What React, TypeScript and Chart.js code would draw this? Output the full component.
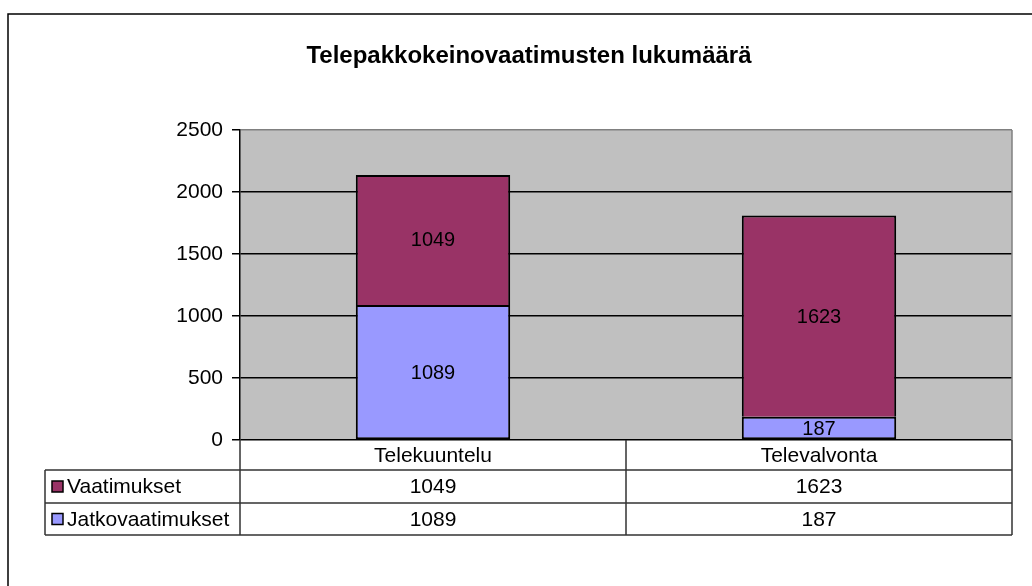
import React, { useEffect, useRef } from "react";
import { Chart, registerables } from "chart.js";

Chart.register(...registerables);

const TITLE = "Telepakkokeinovaatimusten lukumäärä";
const categories = ["Telekuuntelu", "Televalvonta"];
const seriesNames = ["Jatkovaatimukset", "Vaatimukset"];
const jatkovaatimukset = [1089, 187];
const vaatimukset = [1049, 1623];
const yTicks = [0, 500, 1000, 1500, 2000, 2500];
const colors = ["#9999FF", "#993366"];

const FONT = "'Liberation Sans', Arial, sans-serif";

export default function App() {
  const ref = useRef<HTMLCanvasElement | null>(null);

  useEffect(() => {
    document.body.style.margin = "0";
    const canvas = ref.current;
    if (!canvas) return;

    const decor = {
      id: "decor",
      beforeDraw(chart: any) {
        const { ctx, chartArea } = chart;
        ctx.save();
        ctx.fillStyle = "#ffffff";
        ctx.fillRect(0, 0, chart.width, chart.height);
        ctx.fillStyle = "#C0C0C0";
        ctx.fillRect(chartArea.left, chartArea.top, chartArea.right - chartArea.left, chartArea.bottom - chartArea.top);
        // outer frame
        ctx.strokeStyle = "#000";
        ctx.lineWidth = 1.5;
        ctx.beginPath();
        ctx.moveTo(8, chart.height);
        ctx.lineTo(8, 14);
        ctx.lineTo(chart.width, 14);
        ctx.stroke();
        // title
        ctx.fillStyle = "#000";
        ctx.font = `bold 24px ${FONT}`;
        ctx.textAlign = "center";
        ctx.textBaseline = "middle";
        ctx.fillText(TITLE, 529, 56);
        ctx.restore();
      },
      afterDraw(chart: any) {
        const { ctx, chartArea } = chart;
        const xs = chart.scales.x;
        ctx.save();
        // right plot border
        ctx.strokeStyle = "#808080";
        ctx.lineWidth = 1.5;
        ctx.beginPath();
        ctx.moveTo(chartArea.right, chartArea.top);
        ctx.lineTo(chartArea.right, chartArea.bottom);
        ctx.stroke();

        // bar value labels
        ctx.fillStyle = "#000";
        ctx.font = `20px ${FONT}`;
        ctx.textAlign = "center";
        ctx.textBaseline = "middle";
        chart.data.datasets.forEach((ds: any, di: number) => {
          const meta = chart.getDatasetMeta(di);
          meta.data.forEach((el: any, i: number) => {
            const cy = (el.y + el.base) / 2;
            ctx.fillText(String(ds.data[i]), el.x, cy + 1);
          });
        });

        // data table
        const left = chartArea.left;
        const right = chartArea.right;
        const top = chartArea.bottom;
        const rowY = [top, top + 30, top + 63, top + 95];
        const tableLeft = 45;
        const n = categories.length;
        const colW = (right - left) / n;
        const edges: number[] = [];
        for (let i = 0; i <= n; i++) edges.push(left + colW * i);

        ctx.strokeStyle = "#333";
        ctx.lineWidth = 1.5;
        ctx.beginPath();
        for (let r = 1; r < rowY.length; r++) {
          ctx.moveTo(tableLeft, rowY[r]);
          ctx.lineTo(right, rowY[r]);
        }
        ctx.moveTo(tableLeft, rowY[1]);
        ctx.lineTo(tableLeft, rowY[3]);
        edges.forEach((e) => {
          ctx.moveTo(e, rowY[0]);
          ctx.lineTo(e, rowY[3]);
        });
        ctx.stroke();

        ctx.fillStyle = "#000";
        ctx.font = `21px ${FONT}`;
        ctx.textAlign = "center";
        ctx.textBaseline = "middle";
        categories.forEach((c, i) => {
          ctx.fillText(c, xs.getPixelForValue(i), (rowY[0] + rowY[1]) / 2 + 1);
        });

        const rows = [
          { name: seriesNames[1], color: colors[1], data: vaatimukset },
          { name: seriesNames[0], color: colors[0], data: jatkovaatimukset },
        ];
        rows.forEach((row, r) => {
          const cy = (rowY[r + 1] + rowY[r + 2]) / 2;
          ctx.fillStyle = row.color;
          ctx.fillRect(52, cy - 5.5, 11, 11);
          ctx.strokeStyle = "#000";
          ctx.lineWidth = 1.5;
          ctx.strokeRect(52, cy - 5.5, 11, 11);
          ctx.fillStyle = "#000";
          ctx.textAlign = "left";
          ctx.fillText(row.name, 67, cy + 1);
          ctx.textAlign = "center";
          row.data.forEach((v, i) => {
            ctx.fillText(String(v), xs.getPixelForValue(i), cy + 1);
          });
        });
        ctx.restore();
      },
    };

    const chart = new Chart(canvas, {
      type: "bar",
      data: {
        labels: categories,
        datasets: [
          {
            label: seriesNames[0],
            data: jatkovaatimukset,
            backgroundColor: colors[0],
            borderColor: "#000",
            borderWidth: 2,
            borderSkipped: false,
            barPercentage: 0.4,
            categoryPercentage: 1,
          },
          {
            label: seriesNames[1],
            data: vaatimukset,
            backgroundColor: colors[1],
            borderColor: "#000",
            borderWidth: 2,
            borderSkipped: "bottom",
            barPercentage: 0.4,
            categoryPercentage: 1,
          },
        ],
      },
      options: {
        animation: false,
        responsive: false,
        devicePixelRatio: 1,
        layout: { padding: { top: 130, bottom: 146, left: 0, right: 20 } },
        plugins: {
          legend: { display: false },
          title: { display: false },
          tooltip: { enabled: false },
        },
        scales: {
          x: {
            stacked: true,
            display: false,
          },
          y: {
            stacked: true,
            min: yTicks[0],
            max: yTicks[yTicks.length - 1],
            afterFit: (scale: any) => {
              scale.width = 240;
            },
            afterBuildTicks: (scale: any) => {
              scale.ticks = yTicks.map((v) => ({ value: v }));
            },
            ticks: {
              color: "#000",
              font: { family: FONT, size: 21 },
              padding: 9,
              callback: (v: any) => String(v),
            },
            grid: {
              color: (c: any) => (c.tick && c.tick.value === yTicks[yTicks.length - 1] ? "#808080" : "#000"),
              tickColor: "#000",
              lineWidth: 1.5,
              tickLength: 8,
              drawTicks: true,
            },
            border: { display: true, color: "#000", width: 1.5 },
          },
        },
      },
      plugins: [decor],
    });

    return () => chart.destroy();
  }, []);

  return (
    <div style={{ width: 1032, height: 586 }}>
      <canvas ref={ref} width={1032} height={586} style={{ width: 1032, height: 586, display: "block" }} />
    </div>
  );
}
